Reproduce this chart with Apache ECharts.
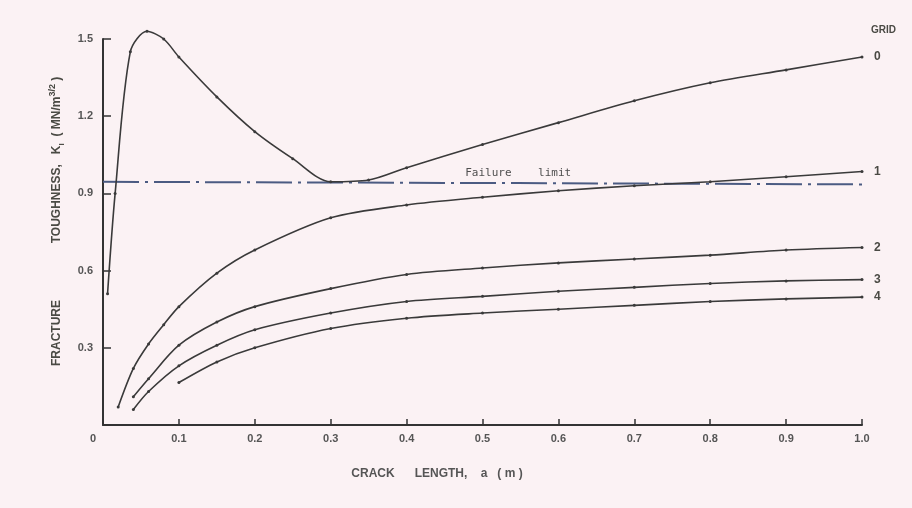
<!DOCTYPE html>
<html>
<head>
<meta charset="utf-8">
<script src="https://cdn.jsdelivr.net/npm/echarts@6/dist/echarts.min.js"></script>
<style>
html,body{margin:0;padding:0;background:#fbf2f4;}
#c{width:912px;height:508px;}
</style>
</head>
<body>
<div id="c"></div>
<script>
// Crack length a (m) and fracture toughness K_I (MN/m^3/2) for each grid
const a0 = [0.006, 0.016, 0.036, 0.058, 0.08, 0.1, 0.15, 0.2, 0.25, 0.3, 0.35, 0.4, 0.5, 0.6, 0.7, 0.8, 0.9, 1.0];
const k0 = [0.51, 0.9, 1.45, 1.53, 1.5, 1.43, 1.275, 1.14, 1.035, 0.945, 0.952, 1.0, 1.09, 1.175, 1.26, 1.33, 1.38, 1.43];
const a1 = [0.02, 0.04, 0.06, 0.08, 0.1, 0.15, 0.2, 0.3, 0.4, 0.5, 0.6, 0.7, 0.8, 0.9, 1.0];
const k1 = [0.07, 0.22, 0.315, 0.39, 0.46, 0.59, 0.68, 0.805, 0.855, 0.885, 0.91, 0.93, 0.945, 0.965, 0.985];
const a2 = [0.04, 0.06, 0.1, 0.15, 0.2, 0.3, 0.4, 0.5, 0.6, 0.7, 0.8, 0.9, 1.0];
const k2 = [0.11, 0.18, 0.31, 0.40, 0.46, 0.53, 0.585, 0.61, 0.63, 0.645, 0.66, 0.68, 0.69];
const a3 = [0.04, 0.06, 0.1, 0.15, 0.2, 0.3, 0.4, 0.5, 0.6, 0.7, 0.8, 0.9, 1.0];
const k3 = [0.06, 0.13, 0.23, 0.31, 0.37, 0.435, 0.48, 0.5, 0.52, 0.535, 0.55, 0.56, 0.565];
const a4 = [0.1, 0.15, 0.2, 0.3, 0.4, 0.5, 0.6, 0.7, 0.8, 0.9, 1.0];
const k4 = [0.165, 0.245, 0.30, 0.375, 0.415, 0.435, 0.45, 0.465, 0.48, 0.49, 0.497];
const failA = [0, 0.547, 1.0];
const failK = [0.945, 0.94, 0.935];
const gridNames = ['0', '1', '2', '3', '4'];

const pairs = (xs, ys) => xs.map((x, i) => [x, ys[i]]);
const ink = '#3a3a3a';
const txt = '#4a4a44';

function curve(name, xs, ys) {
  return {
    type: 'line', name: name, data: pairs(xs, ys),
    smooth: 0.3, clip: false,
    symbol: 'circle', symbolSize: 3, showAllSymbol: true,
    itemStyle: { color: ink },
    lineStyle: { color: ink, width: 1.6 },
    endLabel: { show: true, formatter: name, distance: 12, fontSize: 12, fontWeight: 'bold', color: txt, fontFamily: 'Liberation Sans' },
    z: 3
  };
}

const failData = pairs(failA, failK).map((p, i) => i === 1 ? {
  value: p,
  label: { show: true, position: 'top', distance: 4, formatter: 'Failure    limit', fontFamily: 'DejaVu Sans Mono', fontSize: 11, color: '#505050' }
} : p);

const chart = echarts.init(document.getElementById('c'), null, { renderer: 'canvas' });
chart.setOption({
  backgroundColor: '#fbf2f4',
  animation: false,
  grid: { left: 103, right: 50, top: 39, bottom: 83 },
  xAxis: {
    type: 'value', min: 0, max: 1, interval: 0.1,
    splitLine: { show: false },
    axisLine: { lineStyle: { color: '#333', width: 2 } },
    axisTick: { inside: true, length: 6, lineStyle: { color: '#333', width: 1.5 } },
    axisLabel: {
      margin: 8, fontSize: 11, fontWeight: 'bold', color: '#555', fontFamily: 'Liberation Sans',
      formatter: v => v === 0 ? '{o|0}' : v.toFixed(1),
      rich: { o: { padding: [0, 20, 0, 0], fontSize: 11, fontWeight: 'bold', color: '#555' } }
    }
  },
  yAxis: {
    type: 'value', min: 0, max: 1.5, interval: 0.3,
    splitLine: { show: false },
    axisLine: { lineStyle: { color: '#333', width: 2 } },
    axisTick: { inside: true, length: 8, lineStyle: { color: '#333', width: 1.5 } },
    axisLabel: {
      margin: 10, fontSize: 11, fontWeight: 'bold', color: '#555', fontFamily: 'Liberation Sans',
      formatter: v => v === 0 ? '' : v.toFixed(1)
    }
  },
  series: [
    curve(gridNames[0], a0, k0),
    curve(gridNames[1], a1, k1),
    curve(gridNames[2], a2, k2),
    curve(gridNames[3], a3, k3),
    curve(gridNames[4], a4, k4),
    {
      type: 'line', name: 'Failure limit', data: failData,
      symbol: 'circle', symbolSize: 0.1, showAllSymbol: true, z: 2,
      itemStyle: { color: 'rgba(0,0,0,0)' },
      lineStyle: { color: '#4b5b82', width: 2, type: [36, 6, 3, 6] }
    }
  ],
  graphic: [
    {
      type: 'text', left: 871, top: 25,
      style: { text: 'GRID', fontSize: 10, fontWeight: 'bold', fill: txt, fontFamily: 'Liberation Sans' }
    },
    {
      type: 'text', x: 57, y: 333, rotation: Math.PI / 2,
      style: { text: 'FRACTURE', align: 'center', verticalAlign: 'middle', fontSize: 12, fontWeight: 'bold', fill: txt, fontFamily: 'Liberation Sans' }
    },
    {
      type: 'text', x: 57, y: 160, rotation: Math.PI / 2,
      style: {
        text: '{b|TOUGHNESS,   K}{s|I}{b|  ( MN/m}{p|3/2}{b| )}',
        align: 'center', verticalAlign: 'middle',
        rich: {
          b: { fontSize: 12, fontWeight: 'bold', fill: txt, fontFamily: 'Liberation Sans', lineHeight: 18 },
          s: { fontSize: 8, fontWeight: 'bold', fill: txt, fontFamily: 'Liberation Sans', verticalAlign: 'bottom', padding: [6, 0, 0, 0] },
          p: { fontSize: 9, fontWeight: 'bold', fill: txt, fontFamily: 'Liberation Sans', verticalAlign: 'top', padding: [0, 0, 6, 0] }
        }
      }
    },
    {
      type: 'text', x: 437, y: 474,
      style: { text: 'CRACK      LENGTH,    a   ( m )', align: 'center', verticalAlign: 'middle', fontSize: 12, fontWeight: 'bold', fill: '#555', fontFamily: 'Liberation Sans' }
    }
  ]
});
</script>
</body>
</html>
